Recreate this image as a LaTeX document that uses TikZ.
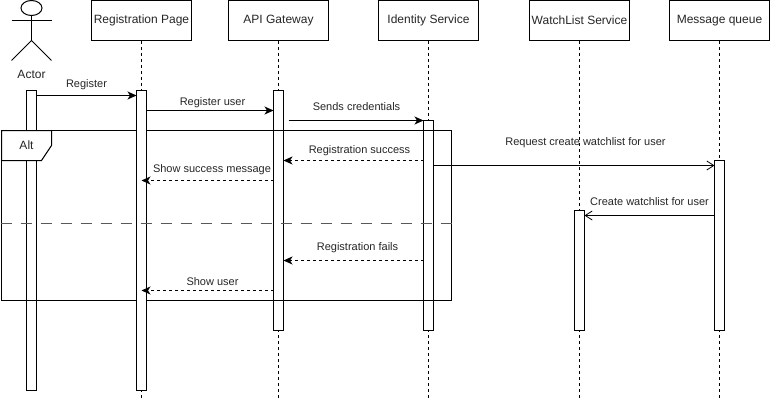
\documentclass[tikz,border=0pt]{standalone}
\usepackage{fontspec}
\setmainfont{Liberation Sans}
\usetikzlibrary{arrows.meta}

\tikzset{
	lifehead/.style={draw,fill=white,minimum width=100pt,minimum height=40pt,inner sep=0pt,font=\fontsize{12}{14}\selectfont,text=black!85},
	lifeline/.style={dash pattern=on 3pt off 3pt},
	activation/.style={draw,fill=white,minimum width=10pt,inner sep=0pt},
	msgsolid/.style={-{Stealth[length=9pt,width=8pt,inset=2.5pt]}},
	msgback/.style={dash pattern=on 3pt off 3pt,-{Stealth[length=9pt,width=8pt,inset=2.5pt]}},
	msgopen/.style={-{Straight Barb[length=7pt,width=9pt,line width=0.8pt]}},
	msglabel/.style={font=\fontsize{11}{13}\selectfont,text=black!85,inner sep=0pt}
}

\begin{document}
\begin{tikzpicture}[x=1pt,y=-1pt,line width=1pt]
	\useasboundingbox (0,0) rectangle (770,401);

	% Draw the head boxes
	\node[lifehead] (regpage) at (141.5,20.5) {Registration Page};
	\node[lifehead] (gateway) at (278.5,20.5) {API Gateway};
	\node[lifehead] (identity) at (428.5,20.5) {Identity Service};
	\node[lifehead] (watchlist) at (579.5,20.5) {WatchList Service};
	\node[lifehead] (queue) at (719.5,20.5) {Message queue};

	% Draw the actor figure
	\draw (31.5,8) ellipse[x radius=10.5,y radius=7.5];
	\draw (31.5,15.5) -- (31.5,40.5) (11.5,20.5) -- (51.5,20.5);
	\draw (11.5,60.5) -- (31.5,40.5) -- (51.5,60.5);
	\node[msglabel,font=\fontsize{12}{14}\selectfont] (actor) at (31.5,74) {Actor};

	% Draw the lifelines
	\coordinate (regend) at (141.5,400);
	\coordinate (gateend) at (278.5,400);
	\coordinate (idend) at (428.5,400);
	\coordinate (watchend) at (579.5,400);
	\coordinate (queueend) at (719.5,400);
	\draw[lifeline] (regpage) -- (regend);
	\draw[lifeline] (gateway) -- (gateend);
	\draw[lifeline] (identity) -- (idend);
	\draw[lifeline] (watchlist) -- (watchend);
	\draw[lifeline] (queue) -- (queueend);

	% Draw the activation bars under the frame
	\node[activation,minimum height=300pt] (baractor) at (31.5,240.5) {};
	\node[activation,minimum height=240pt] (bargate) at (278.5,210.5) {};
	\node[activation,minimum height=210pt] (barid) at (428.5,225.5) {};
	\node[activation,minimum height=120pt] (barwatch) at (579.5,270.5) {};
	\node[activation,minimum height=170pt] (barqueue) at (719.5,245.5) {};

	% Draw the Alt frame with its tag
	\draw (1.5,130.5) rectangle (451.5,300.5);
	\draw[fill=white] (1.5,130.5) -- (51.5,130.5) -- (51.5,145.5) -- (41.5,160.5) -- (1.5,160.5) -- cycle;
	\node[msglabel,font=\fontsize{12}{14}\selectfont] (alttag) at (26.5,145.5) {Alt};

	% Draw the activation bar over the frame
	\node[activation,minimum height=300pt] (barreg) at (141.5,240.5) {};

	% Draw the frame divider
	\coordinate (divleft) at (0.5,223.5);
	\coordinate (divright) at (451.5,223.5);
	\draw[black!65,line width=1.5pt,dash pattern=on 11pt off 9pt] (divleft) -- (divright);

	% Draw the messages
	\coordinate (credfrom) at (288.5,120.5);
	\draw[msgsolid] (36.5,95.5) -- (136.5,95.5);
	\node[msglabel] (lbreg) at (86.5,85) {Register};
	\draw[msgsolid] (146.5,110.5) -- (273.5,110.5);
	\node[msglabel] (lbuser) at (212.5,103) {Register user};
	\draw[msgsolid] (credfrom) -- (423.5,120.5);
	\node[msglabel] (lbcred) at (356.5,107) {Sends credentials};
	\draw[msgback] (423.5,160.5) -- (283.5,160.5);
	\node[msglabel] (lbsucc) at (359.5,151) {Registration success};
	\draw[msgback] (273.5,180.5) -- (141.5,180.5);
	\node[msglabel] (lbshow) at (212,170) {Show success message};
	\draw[msgopen] (433.5,165.5) -- (714.5,165.5);
	\node[msglabel] (lbreq) at (585.5,143) {Request create watchlist for user};
	\draw[msgopen] (714.5,215.5) -- (584.5,215.5);
	\node[msglabel] (lbcreate) at (649.5,202) {Create watchlist for user};
	\draw[msgback] (423.5,260.5) -- (283.5,260.5);
	\node[msglabel] (lbfail) at (357.5,248) {Registration fails};
	\draw[msgback] (273.5,290.5) -- (141.5,290.5);
	\node[msglabel] (lbuse) at (212.5,282) {Show user};

\end{tikzpicture}
\end{document}
